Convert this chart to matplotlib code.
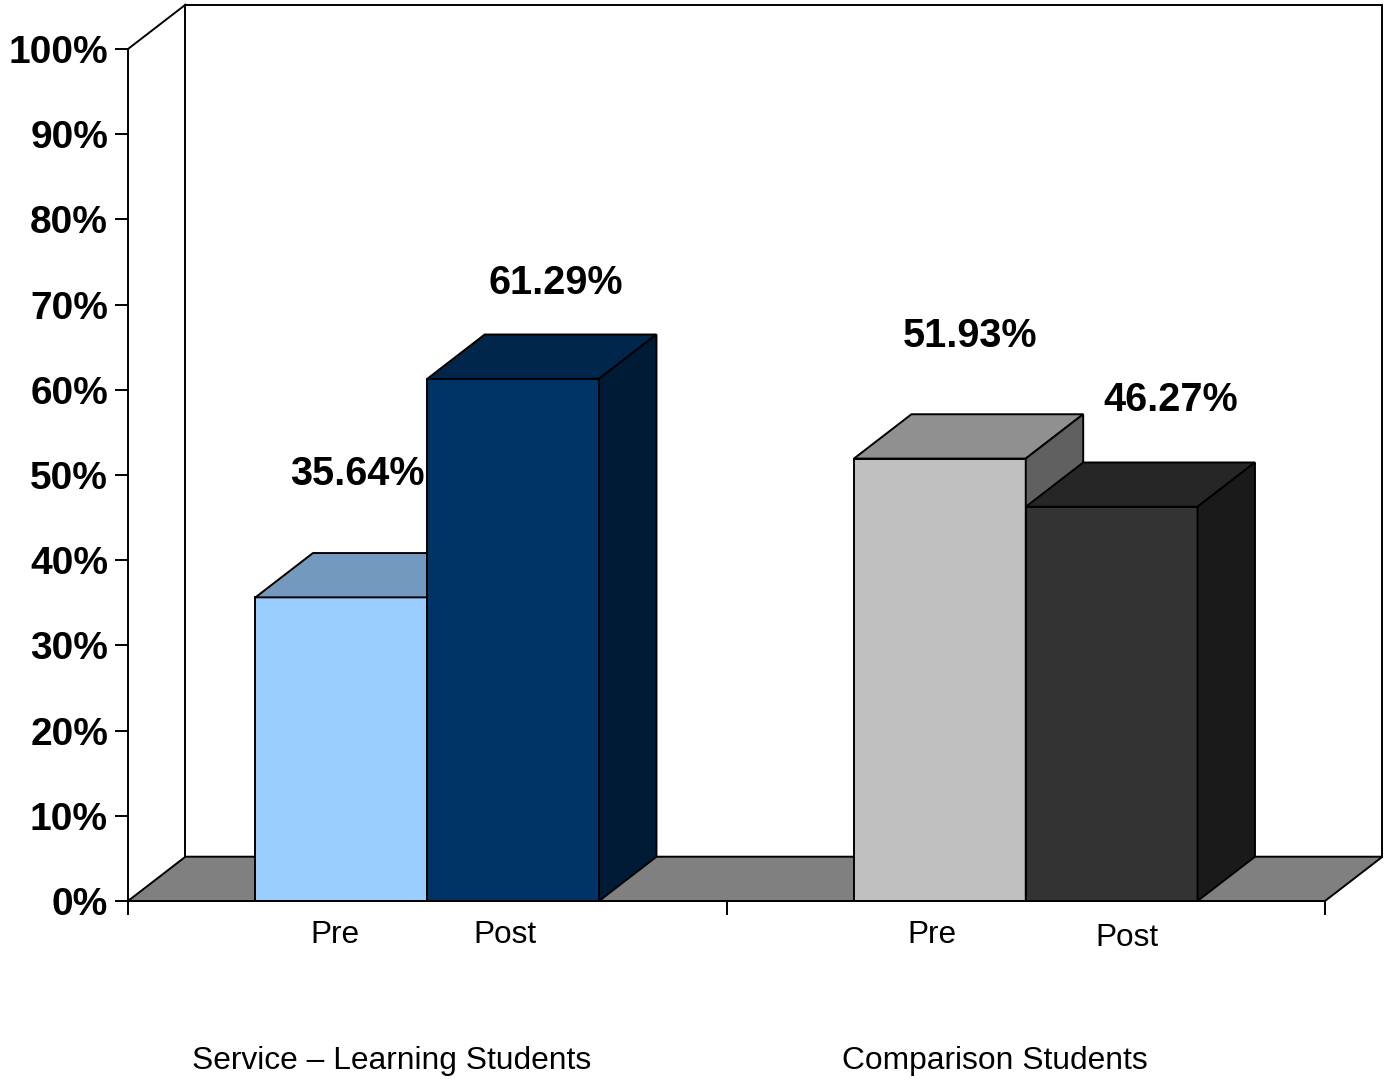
"""Pre/post comparison drawn as Excel-style 3D columns."""

import matplotlib

matplotlib.use("Agg")

import matplotlib.pyplot as plt
from matplotlib.patches import Polygon, Rectangle

plt.rcParams["font.family"] = ["Liberation Sans", "DejaVu Sans"]

groups = ["Service \u2013 Learning Students", "Comparison Students"]
phases = ["Pre", "Post"]
values = [[35.64, 61.29], [51.93, 46.27]]
y_ticks = [0, 10, 20, 30, 40, 50, 60, 70, 80, 90, 100]

# face colours per bar: front, top, side
face_colors = [
    [("#99CCFF", "#7399BF", "#4D6680"), ("#003366", "#00264C", "#001B35")],
    [("#C0C0C0", "#909090", "#606060"), ("#333333", "#262626", "#1A1A1A")],
]

# label placement relative to each bar (x in category units, y in %)
value_offsets = [[(0.026, 14.45), (0.072, 11.25)], [(0.050, 14.35), (0.098, 12.55)]]
phase_offsets = [[(-0.011, -3.95), (-0.014, -3.95)], [(-0.013, -3.95), (0.026, -4.35)]]
group_offsets = [(-0.059, -18.75), (-0.051, -18.75)]

BAR_W = 0.287
DX, DY = 0.096, 5.2
EDGE = "black"
LW = 1.4

fig = plt.figure(figsize=(13.87, 10.8), dpi=100)
ax = fig.add_axes([128 / 1387, 179 / 1080, 1197 / 1387, 852 / 1080])
ax.set_xlim(0, len(groups))
ax.set_ylim(0, 100)

# back wall and floor
ax.add_patch(Rectangle((DX, DY), len(groups), 100, facecolor="white",
                       edgecolor=EDGE, lw=LW, clip_on=False, zorder=1))
ax.add_patch(Polygon([(0, 0), (len(groups), 0), (len(groups) + DX, DY), (DX, DY)],
                     closed=True, facecolor="#808080", edgecolor=EDGE, lw=LW,
                     clip_on=False, zorder=2))
ax.plot([0, DX], [100, 100 + DY], color=EDGE, lw=LW, clip_on=False, zorder=2)


def column(x0, height, colors):
    front, top, side = colors
    x1 = x0 + BAR_W
    ax.add_patch(Rectangle((x0, 0), BAR_W, height, facecolor=front,
                           edgecolor=EDGE, lw=LW, clip_on=False, zorder=3))
    ax.add_patch(Polygon([(x0, height), (x1, height), (x1 + DX, height + DY),
                          (x0 + DX, height + DY)], closed=True, facecolor=top,
                         edgecolor=EDGE, lw=LW, clip_on=False, zorder=3))
    ax.add_patch(Polygon([(x1, 0), (x1 + DX, DY), (x1 + DX, height + DY),
                          (x1, height)], closed=True, facecolor=side,
                         edgecolor=EDGE, lw=LW, clip_on=False, zorder=3))


for g, (group, vals) in enumerate(zip(groups, values)):
    center = g + 0.5
    for p, (phase, val) in enumerate(zip(phases, vals)):
        x0 = center - BAR_W + p * BAR_W
        column(x0, val, face_colors[g][p])
        mid = x0 + BAR_W / 2
        ox, oy = value_offsets[g][p]
        ax.text(mid + ox, val + oy, f"{val:.2f}%", ha="center", va="center",
                fontsize=28.5, fontweight="bold", zorder=5)
        px, py = phase_offsets[g][p]
        ax.text(mid + px, py, phase, ha="center", va="center", fontsize=22.7,
                clip_on=False)
    gx, gy = group_offsets[g]
    ax.text(center + gx, gy, group, ha="center", va="center", fontsize=22.9,
            clip_on=False)

for side in ("top", "right"):
    ax.spines[side].set_visible(False)
for side in ("left", "bottom"):
    ax.spines[side].set_linewidth(LW)
    ax.spines[side].set_zorder(4)

ax.set_yticks(y_ticks)
ax.set_yticklabels([f"{t}%" for t in y_ticks], fontsize=28, fontweight="bold")
ax.set_xticks(range(len(groups) + 1))
ax.set_xticklabels([])
ax.tick_params(axis="y", direction="out", length=9.4, width=LW, pad=5)
ax.tick_params(axis="x", direction="out", length=10, width=LW)
ax.set_facecolor("none")

fig.savefig("out.png", dpi=100)
